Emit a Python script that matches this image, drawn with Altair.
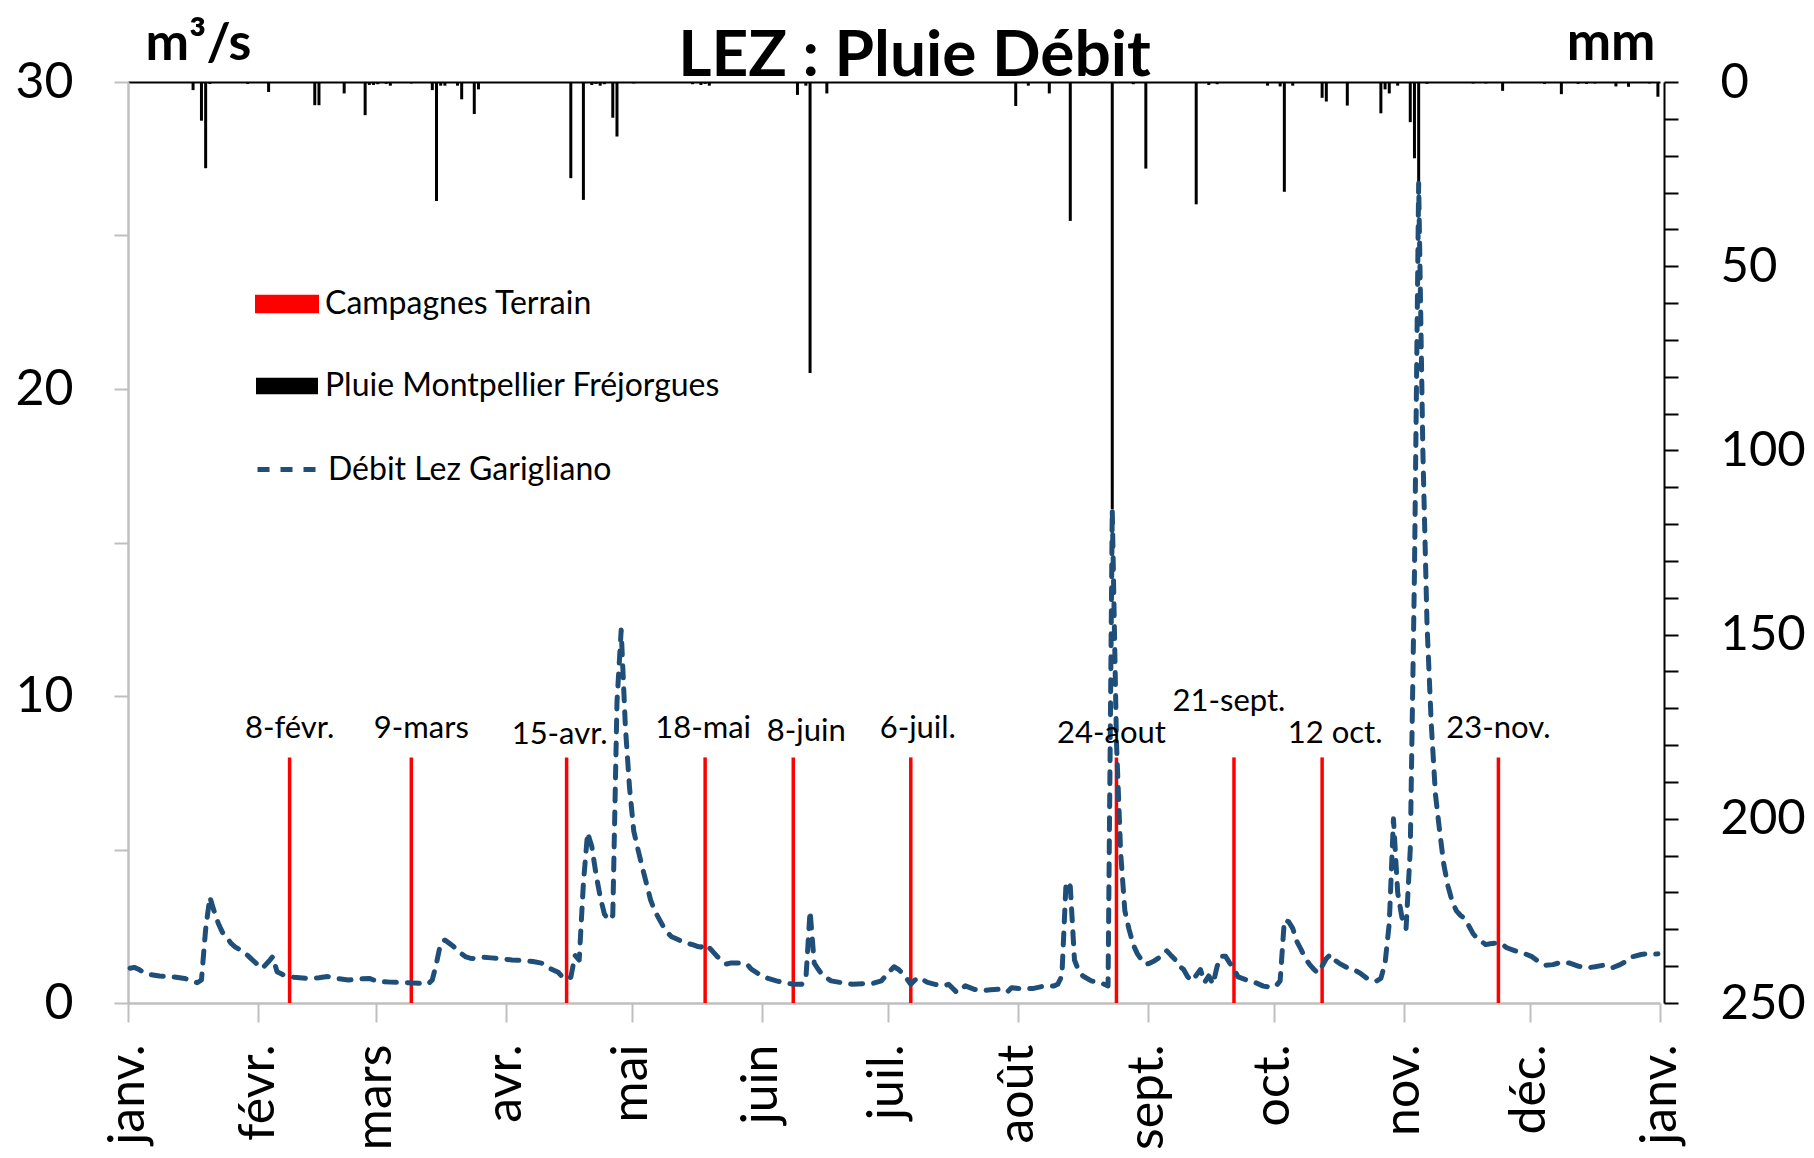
import altair as alt
import pandas as pd

YEAR = 2015
FONT = "Lato"

# ---- Débit Lez Garigliano (m3/s) : day of year (0 = 1 Jan) and value
flow_days = [0, 1, 2, 3, 4, 5, 7, 9, 11, 13, 15, 16, 17, 18, 19, 20, 21, 22, 23, 24, 25, 26, 27, 28, 29, 30,
             31, 32, 33, 34, 35, 36, 37, 39, 42, 45, 47, 49, 52, 54, 57, 59, 62, 66, 69, 71, 72, 73, 74, 75,
             76, 77, 78, 79, 80, 81, 82, 84, 86, 88, 91, 94, 96, 98, 100, 102, 103, 104, 105, 106, 107, 108,
             109, 110, 111, 112, 113, 114, 115, 116, 117, 118, 119, 120, 121, 122, 123, 124, 125, 126, 127,
             128, 129, 130, 132, 134, 135, 136, 137, 138, 139, 140, 141, 142, 143, 145, 147, 148, 150, 152,
             154, 156, 158, 160, 161, 162, 163, 164, 165, 167, 170, 172, 175, 177, 179, 181, 182, 183, 184,
             186, 187, 188, 190, 192, 194, 195, 197, 199, 201, 203, 205, 207, 209, 210, 212, 215, 218, 220,
             221, 222, 223, 224, 225, 226, 227, 229, 231, 233, 234, 235, 236, 237, 238, 239, 240, 241, 242,
             243, 244, 246, 247, 248, 249, 250, 251, 252, 253, 254, 255, 256, 257, 258, 259, 260, 261, 262,
             263, 264, 266, 268, 270, 272, 273, 274, 275, 276, 277, 278, 279, 280, 281, 282, 283, 284, 285,
             286, 287, 288, 290, 292, 293, 295, 297, 298, 299, 300, 301, 302, 303, 304, 305, 306, 307, 308,
             309, 310, 311, 312, 313, 314, 315, 316, 317, 318, 319, 320, 321, 322, 323, 324, 326, 327, 328,
             330, 332, 334, 336, 337, 339, 341, 343, 345, 347, 349, 351, 353, 355, 357, 358, 360, 361, 362, 364]
flow_values = [1.13, 1.16, 1.1, 1.02, 0.95, 0.92, 0.88, 0.86, 0.84, 0.8, 0.72, 0.66, 0.75, 2.4, 3.45, 3.0, 2.6,
               2.3, 2.15, 1.95, 1.83, 1.75, 1.65, 1.55, 1.42, 1.3, 1.13, 1.2, 1.35, 1.51, 1.02, 0.95, 0.88,
               0.84, 0.8, 0.82, 0.86, 0.8, 0.75, 0.78, 0.8, 0.7, 0.68, 0.66, 0.64, 0.62, 0.75, 1.3, 1.95, 2.05,
               1.95, 1.85, 1.7, 1.6, 1.5, 1.46, 1.45, 1.49, 1.47, 1.45, 1.4, 1.38, 1.35, 1.3, 1.13, 1.0, 0.85,
               0.78, 0.84, 1.55, 1.4, 3.9, 5.55, 5.1, 4.2, 3.46, 2.9, 2.7, 2.85, 9.8, 12.15, 9.0, 7.0, 5.6,
               5.0, 4.44, 3.9, 3.36, 3.0, 2.75, 2.5, 2.3, 2.16, 2.1, 1.97, 1.9, 1.85, 1.82, 1.92, 1.8, 1.65,
               1.5, 1.38, 1.27, 1.3, 1.3, 1.26, 1.1, 0.93, 0.8, 0.72, 0.66, 0.61, 0.61, 0.77, 3.0, 1.3, 1.09,
               0.9, 0.72, 0.65, 0.61, 0.63, 0.64, 0.72, 1.04, 1.18, 1.1, 0.98, 0.61, 0.75, 0.83, 0.67, 0.6,
               0.56, 0.61, 0.34, 0.56, 0.45, 0.4, 0.43, 0.45, 0.36, 0.5, 0.47, 0.47, 0.56, 0.55, 0.61, 0.88,
               3.95, 3.8, 1.4, 1.05, 0.88, 0.72, 0.67, 0.56, 16.07, 8.5, 4.9, 3.0, 2.4, 1.9, 1.6, 1.4, 1.26,
               1.3, 1.37, 1.55, 1.7, 1.55, 1.41, 1.2, 1.09, 0.85, 0.72, 0.9, 1.09, 0.67, 0.88, 0.61, 1.2, 1.52,
               1.52, 1.3, 1.09, 0.85, 0.75, 0.67, 0.55, 0.51, 0.55, 0.72, 2.7, 2.65, 2.43, 2.0, 1.74, 1.45,
               1.26, 1.1, 0.98, 1.2, 1.45, 1.58, 1.4, 1.3, 1.15, 1.05, 0.98, 0.77, 0.72, 0.8, 1.3, 2.6, 6.0,
               3.6, 2.8, 2.43, 5.0, 14.0, 26.7, 18.0, 12.3, 9.1, 6.8, 5.6, 4.5, 3.8, 3.3, 3.0, 2.85, 2.75, 2.5,
               2.25, 2.1, 2.0, 1.9, 1.93, 1.96, 1.9, 1.8, 1.7, 1.62, 1.51, 1.3, 1.23, 1.25, 1.33, 1.3, 1.2,
               1.14, 1.18, 1.23, 1.14, 1.25, 1.4, 1.51, 1.58, 1.6, 1.58, 1.6]

# ---- Pluie Montpellier Fréjorgues (mm)
rain_days = [15, 17, 18, 19, 28, 33, 44, 45, 51, 56, 57, 58, 59, 61, 62, 67, 72, 73, 74, 75, 78, 79, 82, 83,
             105, 108, 110, 111, 112, 113, 115, 116, 120, 134, 136, 137, 138, 159, 161, 162, 166, 211, 214,
             219, 224, 234, 239, 242, 254, 257, 259, 271, 274, 275, 277, 284, 285, 290, 298, 299, 300, 302,
             305, 306, 307, 309, 320, 323, 327, 337, 341, 345, 347, 349, 354, 357, 362, 364]
rain_mm = [2.2, 10.5, 23.4, 0.5, 0.5, 2.7, 6.3, 6.3, 3.1, 9.0, 0.8, 0.8, 0.6, 0.5, 1.0, 0.4, 2.2, 32.3, 1.0,
           1.0, 1.0, 4.7, 8.7, 2.0, 26.1, 32.0, 0.8, 0.5, 1.0, 0.6, 9.7, 14.8, 0.4, 0.6, 0.8, 0.5, 1.0, 3.5,
           1.0, 79.0, 3.1, 6.5, 1.0, 3.1, 37.7, 116.0, 0.6, 23.5, 33.2, 0.8, 0.6, 1.0, 1.2, 29.8, 1.0, 4.3,
           5.3, 6.4, 8.5, 2.0, 3.1, 1.0, 10.9, 20.7, 27.5, 0.5, 0.4, 0.4, 2.4, 0.5, 3.3, 0.5, 0.5, 0.4, 1.2,
           1.3, 0.4, 4.0]

# ---- Campagnes terrain
campaign_dates = ["2015-02-08", "2015-03-09", "2015-04-15", "2015-05-18", "2015-06-08",
                  "2015-07-06", "2015-08-24", "2015-09-21", "2015-10-12", "2015-11-23"]
campaign_labels = ["8-févr.", "9-mars", "15-avr.", "18-mai", "8-juin",
                   "6-juil.", "24-aout", "21-sept.", "12 oct.", "23-nov."]
campaign_bar = [8, 8, 8, 8, 8, 8, 8, 8, 8, 8]
campaign_label_level = [8.62, 8.62, 8.43, 8.62, 8.54, 8.62, 8.47, 9.52, 8.47, 8.62]

month_names = ["janv.", "févr.", "mars", "avr.", "mai", "juin",
               "juil.", "août", "sept.", "oct.", "nov.", "déc."]

# styling: horizontal nudge (px) of each campaign label, as placed in the original
LABEL_DX = [0, 10, -7, -2, 13, 7, -5, -5, 13, 0]

S_CAMP = "Campagnes Terrain"
S_RAIN = "Pluie Montpellier Fréjorgues"
S_FLOW = "Débit Lez Garigliano"

start = pd.Timestamp(f"{YEAR}-01-01 12:00")
flow_df = pd.DataFrame({"date": start + pd.to_timedelta(flow_days, unit="D"),
                        "debit": flow_values, "serie": S_FLOW})
rain_df = pd.DataFrame({"date": start + pd.to_timedelta(rain_days, unit="D"),
                        "pluie": rain_mm, "serie": S_RAIN})
camp_df = pd.DataFrame({"date": pd.to_datetime(campaign_dates) + pd.Timedelta(hours=12),
                        "haut": campaign_bar, "label": campaign_labels,
                        "niveau": campaign_label_level, "serie": S_CAMP})

x_scale = alt.Scale(domain=[alt.DateTime(year=YEAR, month=1, date=1),
                            alt.DateTime(year=YEAR + 1, month=1, date=1)], nice=False, padding=0)
month_ticks = [alt.DateTime(year=YEAR, month=m, date=1) for m in range(1, 13)] + \
              [alt.DateTime(year=YEAR + 1, month=1, date=1)]
month_expr = "[" + ",".join(f"'{m}'" for m in month_names) + "][month(datum.value)]"

GRAY = "#bfbfbf"
RECT = "M-1,-0.27L1,-0.27L1,0.27L-1,0.27Z"


def legend(y, symbol, **kw):
    return alt.Legend(title=None, orient="none", legendX=127, legendY=y, symbolType=symbol,
                      symbolSize=3844, labelFont=FONT, labelFontSize=32, labelColor="black",
                      labelOffset=6, padding=0, labelLimit=0, **kw)


bottom_axis = alt.Axis(
    values=month_ticks, labelExpr=month_expr, labelAngle=-90, labelFont=FONT, labelFontSize=50,
    labelColor="black", labelPadding=22, tickSize=19, tickColor=GRAY, tickWidth=2,
    domainColor=GRAY, domainWidth=2.5, grid=False, title=None, labelOverlap=False,
    labelFlush=False, labelBound=False, orient="bottom")
left_axis = alt.Axis(
    orient="left", values=list(range(0, 31, 5)),
    labelExpr="datum.value % 10 === 0 ? datum.label : ''",
    labelFont=FONT, labelFontSize=50, labelColor="black", labelPadding=41,
    tickSize=14, tickColor=GRAY, tickWidth=2, domainColor=GRAY,
    domainWidth=2.5, grid=False, title="m³/s", titleFont=FONT,
    titleFontSize=52, titleFontWeight="bold", titleColor="black",
    titleAngle=0, titleX=17, titleY=-23, titleAlign="left",
    titleBaseline="alphabetic")

x_top = alt.X("date:T", scale=x_scale, axis=alt.Axis(
    orient="top", labels=False, ticks=False, domainColor="black", domainWidth=2, grid=False,
    title="LEZ : Pluie Débit", titleFont=FONT, titleFontSize=64, titleFontWeight="bold",
    titleColor="black", titleX=786, titleY=-7, titleAlign="center", titleBaseline="alphabetic",
    titleAngle=0))
x_bottom = alt.X("date:T", scale=x_scale, axis=bottom_axis)

y_flow_scale = alt.Scale(domain=[0, 30], nice=False)

rain = alt.Chart(rain_df).mark_bar(size=3).encode(
    x=x_top,
    y=alt.Y("pluie:Q", scale=alt.Scale(domain=[0, 250], reverse=True, nice=False),
            axis=alt.Axis(orient="right", values=list(range(0, 251, 10)),
                          labelExpr="datum.value % 50 === 0 ? datum.label : ''",
                          labelFont=FONT, labelFontSize=49, labelColor="black", labelPadding=42,
                          tickSize=14, tickColor="black", tickWidth=2, domainColor="black",
                          domainWidth=2, offset=4, grid=False, title="mm", titleFont=FONT,
                          titleFontSize=53, titleFontWeight="bold", titleColor="black",
                          titleAngle=0, titleX=-9, titleY=-23, titleAlign="right",
                          titleBaseline="alphabetic")),
    color=alt.Color("serie:N", scale=alt.Scale(domain=[S_RAIN], range=["#000000"]),
                    legend=legend(272, RECT)),
)

camp = alt.Chart(camp_df).mark_bar(size=3.5).encode(
    x=x_bottom,
    y=alt.Y("haut:Q", scale=y_flow_scale, axis=left_axis),
    color=alt.Color("serie:N", scale=alt.Scale(domain=[S_CAMP], range=["#ff0000"]),
                    legend=legend(190, RECT, symbolStrokeColor="#ff0000",
                                  symbolFillColor="#c00000", symbolStrokeWidth=2)),
)

flow = alt.Chart(flow_df).mark_line(strokeWidth=5, strokeDash=[12, 11], strokeCap="round",
                                    strokeJoin="round").encode(
    x=x_bottom,
    y=alt.Y("debit:Q", scale=y_flow_scale, axis=left_axis),
    color=alt.Color("serie:N", scale=alt.Scale(domain=[S_FLOW], range=["#1f4e79"]),
                    legend=legend(354, "stroke", symbolStrokeWidth=5, symbolDash=[12, 11])),
)

label_layers = []
for i, lab in enumerate(campaign_labels):
    label_layers.append(
        alt.Chart(camp_df).transform_filter(alt.datum.label == lab).mark_text(
            font=FONT, fontSize=31, color="black", align="center", baseline="alphabetic",
            dx=LABEL_DX[i]).encode(
            x=x_bottom,
            y=alt.Y("niveau:Q", scale=y_flow_scale, axis=left_axis),
            text="label:N",
        )
    )

inner = alt.layer(camp, flow, *label_layers).resolve_scale(color="independent")

chart = alt.layer(rain, inner).resolve_scale(
    y="independent", color="independent"
).resolve_axis(x="independent").properties(
    width=1532, height=921,
    autosize=alt.AutoSizeParams(type="none"),
    padding={"left": 120, "top": 74, "right": 146, "bottom": 145},
).configure_view(stroke=None).configure_axis(grid=False)

chart.save("out.html", embed_options={"renderer": "svg", "actions": False})
